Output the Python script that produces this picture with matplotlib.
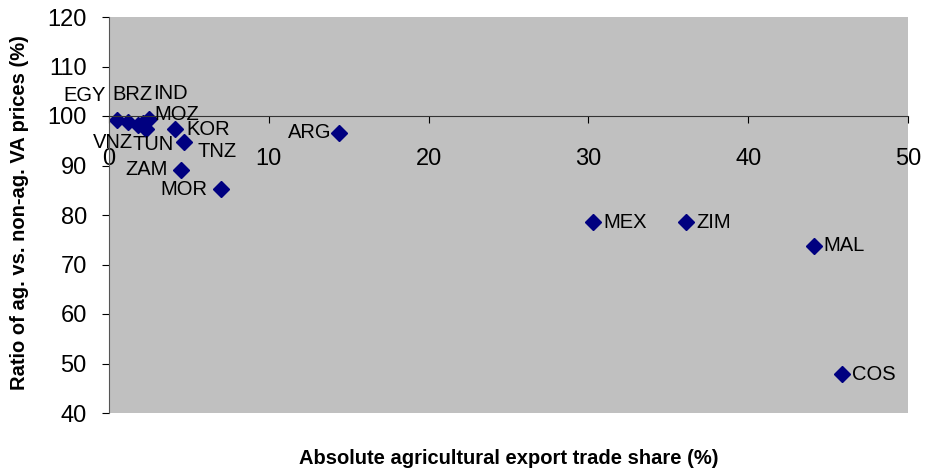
import matplotlib
matplotlib.use("Agg")
import matplotlib.pyplot as plt

countries = ["EGY", "BRZ", "VNZ", "TUN", "IND", "MOZ", "KOR", "TNZ", "ZAM", "MOR",
             "ARG", "MEX", "ZIM", "MAL", "COS"]
trade_share = [0.5, 1.2, 1.8, 2.3, 2.5, 2.1, 4.1, 4.7, 4.5, 7.0,
               14.4, 30.3, 36.1, 44.1, 45.9]
price_ratio = [99.1, 98.8, 98.2, 97.4, 99.4, 98.6, 97.4, 94.8, 89.1, 85.2,
               96.6, 78.5, 78.5, 73.8, 47.8]

# label placement (pixel offsets, alignment)
label_pos = {
    "EGY": (-32, 25, "center"), "BRZ": (4, 27, "center"), "IND": (21, 25, "center"),
    "MOZ": (12, 8, "left"), "VNZ": (-25, -18, "center"), "TUN": (7, -16, "center"),
    "KOR": (12, -1, "left"), "TNZ": (13, -10, "left"), "ZAM": (-13, 0, "right"),
    "MOR": (-13, 0, "right"), "ARG": (-8, 0, "right"), "MEX": (10, 0, "left"),
    "ZIM": (10, 0, "left"), "MAL": (10, 0, "left"), "COS": (10, 0, "left"),
}

plt.rcParams['font.family'] = ['Liberation Sans', 'DejaVu Sans']

fig = plt.figure(figsize=(9.27, 4.71), dpi=100)
ax = fig.add_axes([109/927, 58/471, 799/927, 396/471])
ax.set_facecolor("#C0C0C0")

ax.plot(trade_share, price_ratio, linestyle="none", marker="D", markersize=8.5,
        color="#000080")

for c, x, y in zip(countries, trade_share, price_ratio):
    dx, dy, ha = label_pos[c]
    ax.annotate(c, (x, y), xytext=(dx, dy), textcoords="offset pixels",
                ha=ha, va="center", fontsize=14.5, color="black")

ax.set_xlim(0, 50)
ax.set_ylim(40, 120)
ax.set_xticks(range(0, 51, 10))
ax.set_yticks(range(40, 121, 10))

ax.spines['bottom'].set_position(('data', 100))
ax.spines['top'].set_visible(False)
ax.spines['right'].set_visible(False)
ax.spines['bottom'].set_color("#333333")
ax.spines['left'].set_color("#555555")
ax.tick_params(axis='both', direction='out', length=5, labelsize=17, colors="black")
ax.tick_params(axis='x', pad=18)
ax.tick_params(axis='y', pad=11)

fig.text((109 + 908) / 2 / 927, 1 - 458/471, "Absolute agricultural export trade share (%)",
         ha="center", va="center", fontsize=14.5, fontweight="bold")
fig.text(20/927, 1 - 213/471, "Ratio of ag. vs. non-ag. VA prices (%)",
         ha="center", va="center", rotation=90, fontsize=14.5, fontweight="bold")

fig.savefig("out.png", dpi=100)
